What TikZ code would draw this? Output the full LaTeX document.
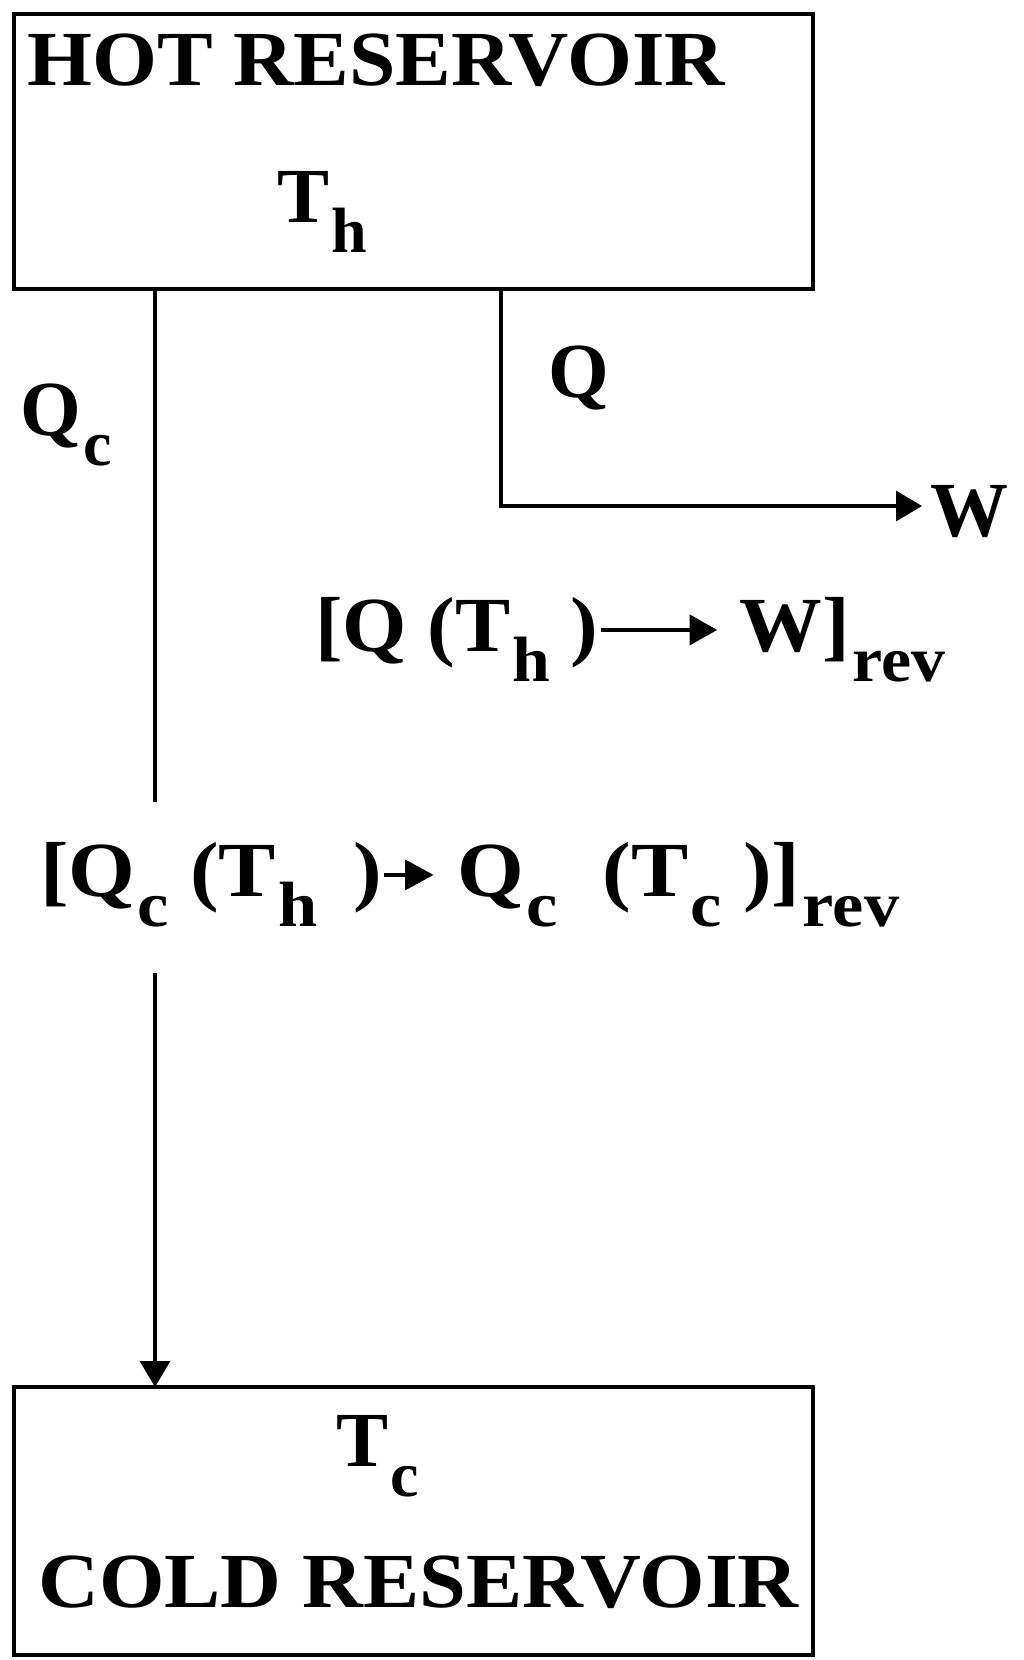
\documentclass[tikz,border=0pt]{standalone}
\usepackage{fontspec}
\setmainfont{Liberation Serif}
\usetikzlibrary{arrows.meta}
\newcommand{\sbx}[1]{\kern2pt\raisebox{-0.38em}{\fontsize{64}{64}\selectfont\bfseries #1}}
\newcommand{\iarr}[1]{\tikz[baseline=-22pt,x=1pt,y=1pt]{\draw[line width=4pt,-{Triangle[length=26pt,width=30pt]}] (0,0) -- (#1,0);}}
\begin{document}
\begin{tikzpicture}[x=1pt,y=-1pt,
  box/.style={draw,line width=4pt},
  lab/.style={font=\fontsize{78}{78}\selectfont\bfseries,inner sep=0pt},
  conn/.style={line width=3.5pt,-{Triangle[length=26pt,width=30pt]}}]
\useasboundingbox (0,0) rectangle (1024,1660);
\draw[box] (14,14) rectangle (813,289);
\draw[box] (14,1387) rectangle (813,1655);
\node[lab,anchor=west,xscale=1.07] (hot) at (27,60) {HOT RESERVOIR};
\node[lab] (th) at (322,212) {T\sbx{h}};
\node[lab] (tc) at (378,1456) {T\sbx{c}};
\node[lab,anchor=west,xscale=1.08] (cold) at (38,1582) {COLD RESERVOIR};
\node[lab] (ql) at (579,378) {Q};
\node[lab] (qcl) at (66,425) {Q\sbx{c}};
\node[lab,anchor=west] (w) at (930,512) {W};
\node[lab,anchor=west,xscale=1.06] (l1) at (315,640) {[Q (T\sbx{h} )\iarr{110} W]\sbx{rev}};
\node[lab,anchor=west,xscale=1.1] (l2) at (40,885) {[Q\sbx{c} (T\sbx{h}\, )\iarr{45} Q\sbx{c}\; (T\sbx{c} )]\sbx{rev}};
\coordinate (a) at (155,289);
\coordinate (b) at (155,802);
\coordinate (c) at (155,973);
\coordinate (d) at (155,1387);
\coordinate (e) at (501,289);
\coordinate (f) at (501,506);
\coordinate (g) at (922,506);
\draw[line width=3.5pt] (a) -- (b);
\draw[conn] (c) -- (d);
\draw[conn] (e) -- (f) -- (g);
\end{tikzpicture}
\end{document}
